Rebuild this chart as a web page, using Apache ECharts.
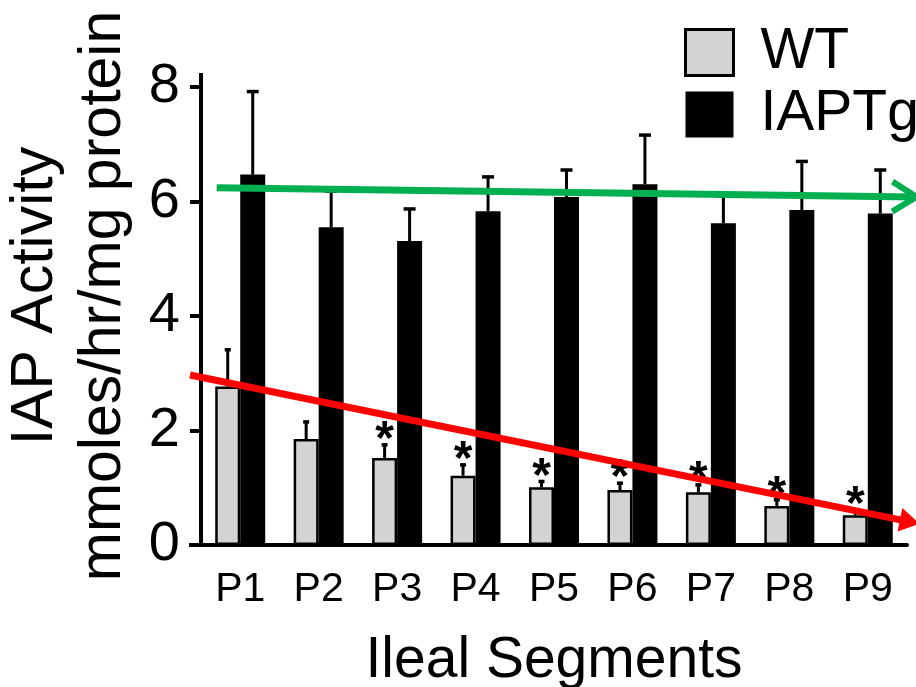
<!DOCTYPE html>
<html><head><meta charset="utf-8">
<script src="https://cdn.jsdelivr.net/npm/echarts@6/dist/echarts.min.js"></script>
<style>html,body{margin:0;padding:0;background:#fff}#c{width:916px;height:687px}</style>
</head><body><div id="c"></div>
<script>
const categories = ['P1', 'P2', 'P3', 'P4', 'P5', 'P6', 'P7', 'P8', 'P9'];
const wtMean = [2.77, 1.85, 1.52, 1.21, 1.01, 0.96, 0.92, 0.68, 0.52];
const wtSem  = [0.64, 0.30, 0.23, 0.19, 0.10, 0.12, 0.13, 0.11, 0.09];
const tgMean = [6.47, 5.55, 5.31, 5.83, 6.08, 6.30, 5.62, 5.85, 5.79];
const tgSem  = [1.45, 0.63, 0.56, 0.60, 0.47, 0.86, 0.48, 0.85, 0.76];
const wtSig  = ['', '', '*', '*', '*', '*', '*', '*', '*'];
const yTicks = [0, 2, 4, 6, 8];
// trend arrows: [xStart, yStart, xEnd, yEnd] in category-index units / y units
const greenTrend = [-0.30, 6.24, 8.62, 6.08];
const redTrend   = [-0.64, 2.97, 8.66, 0.37];

const FONT = '"Liberation Sans", Arial, Helvetica, sans-serif';
const chart = echarts.init(document.getElementById('c'), null, {renderer: 'canvas'});

function errRender(meanArr, semArr, offset, capHalf, sig) {
  return function (params, api) {
    const i = params.dataIndex;
    const base = api.coord([i, meanArr[i]]);
    const top = api.coord([i, meanArr[i] + semArr[i]]);
    const x = base[0] + offset;
    const children = [
      {type: 'line', shape: {x1: x, y1: base[1], x2: x, y2: top[1]}, style: {stroke: '#000', lineWidth: 3}},
      {type: 'line', shape: {x1: x - capHalf, y1: top[1], x2: x + capHalf, y2: top[1]}, style: {stroke: '#000', lineWidth: 3.5}}
    ];
    if (sig && sig[i]) {
      children.push({type: 'text', x: x, y: top[1] - 4,
        style: {text: sig[i], fontSize: 48, fontWeight: 'bold', fontFamily: FONT,
          align: 'center', verticalAlign: 'middle', fill: '#000'}});
    }
    return {type: 'group', children: children};
  };
}

function arrowRender(color, open) {
  return function (params, api) {
    const p1 = api.coord([api.value(0), api.value(1)]);
    const p2 = api.coord([api.value(2), api.value(3)]);
    const dx = p2[0] - p1[0], dy = p2[1] - p1[1];
    const len = Math.sqrt(dx * dx + dy * dy);
    const ux = dx / len, uy = dy / len;
    const nx = -uy, ny = ux;
    const children = [];
    if (open) {
      const L = 24, W = 15;
      children.push({type: 'line', shape: {x1: p1[0], y1: p1[1], x2: p2[0] - ux * 3, y2: p2[1] - uy * 3},
        style: {stroke: color, lineWidth: 7}});
      children.push({type: 'polyline', shape: {points: [
        [p2[0] - ux * L + nx * W, p2[1] - uy * L + ny * W], [p2[0], p2[1]],
        [p2[0] - ux * L - nx * W, p2[1] - uy * L - ny * W]]},
        style: {stroke: color, lineWidth: 6, fill: null, lineJoin: 'miter'}});
    } else {
      const L = 20, W = 12;
      children.push({type: 'line', shape: {x1: p1[0], y1: p1[1], x2: p2[0] - ux * L * 0.6, y2: p2[1] - uy * L * 0.6},
        style: {stroke: color, lineWidth: 7}});
      children.push({type: 'polygon', shape: {points: [
        [p2[0], p2[1]],
        [p2[0] - ux * L + nx * W, p2[1] - uy * L + ny * W],
        [p2[0] - ux * L - nx * W, p2[1] - uy * L - ny * W]]},
        style: {fill: color}});
    }
    return {type: 'group', children: children};
  };
}

const option = {
  animation: false,
  backgroundColor: '#fff',
  textStyle: {fontFamily: FONT},
  grid: {left: 201, right: 9, top: 87, bottom: 142, containLabel: false, outerBoundsMode: 'none'},
  legend: {
    orient: 'vertical', left: 684, top: 24, padding: 0,
    itemWidth: 48, itemHeight: 46, itemGap: 5, icon: 'rect',
    textStyle: {fontSize: 57, fontFamily: FONT, color: '#000', lineHeight: 46, padding: [0, 0, 0, 22]},
    data: [
      {name: 'WT', itemStyle: {color: '#d3d3d3', borderColor: '#000', borderWidth: 3}},
      {name: 'IAPTg', itemStyle: {color: '#000', borderColor: '#000', borderWidth: 0}}
    ]
  },
  xAxis: [{
    type: 'category', data: categories, gridIndex: 0,
    axisLine: {onZero: false, lineStyle: {color: '#000', width: 4}},
    axisTick: {alignWithLabel: true, length: 10, lineStyle: {color: '#000', width: 3}},
    axisLabel: {fontSize: 41, color: '#000', margin: 24, fontFamily: FONT},
    name: 'Ileal Segments', nameLocation: 'middle', nameGap: 88,
    nameTextStyle: {fontSize: 57, color: '#000', fontFamily: FONT}
  }, {
    type: 'value', gridIndex: 0, min: -0.5, max: 8.5, show: false
  }],
  yAxis: {
    type: 'value', min: 0, max: 8, interval: 2,
    axisLine: {show: true, onZero: false, lineStyle: {color: '#000', width: 4}},
    axisTick: {show: true, length: 11, lineStyle: {color: '#000', width: 4}},
    splitLine: {show: false},
    axisLabel: {fontSize: 56, color: '#000', margin: 21, fontFamily: FONT,
      formatter: function (v) { return yTicks.indexOf(v) >= 0 ? String(v) : ''; }},
    name: 'IAP Activity\nmmoles/hr/mg protein', nameLocation: 'middle', nameRotate: 90, nameGap: 63,
    nameTextStyle: {fontSize: 59, lineHeight: 68, color: '#000', fontFamily: FONT, padding: [0, 0, 0, 40]}
  },
  series: [
    {name: 'WT', type: 'bar', data: wtMean, barWidth: 25, barGap: '0%', z: 2,
      itemStyle: {color: '#d3d3d3', borderColor: '#000', borderWidth: 2.5}},
    {name: 'IAPTg', type: 'bar', data: tgMean, barWidth: 25, barGap: '0%', z: 2,
      itemStyle: {color: '#000', borderColor: '#000', borderWidth: 0}},
    {type: 'custom', z: 3, xAxisIndex: 0, renderItem: errRender(wtMean, wtSem, -12.5, 3, wtSig),
      data: categories.map(function (c, i) { return [i, wtMean[i] + wtSem[i]]; })},
    {type: 'custom', z: 3, xAxisIndex: 0, renderItem: errRender(tgMean, tgSem, 12.5, 6, null),
      data: categories.map(function (c, i) { return [i, tgMean[i] + tgSem[i]]; })},
    {type: 'custom', z: 6, xAxisIndex: 1, yAxisIndex: 0, clip: false,
      dimensions: ['x1', 'y1', 'x2', 'y2'], encode: {x: [0, 2], y: [1, 3]},
      renderItem: arrowRender('#00b050', true), data: [greenTrend]},
    {type: 'custom', z: 7, xAxisIndex: 1, yAxisIndex: 0, clip: false,
      dimensions: ['x1', 'y1', 'x2', 'y2'], encode: {x: [0, 2], y: [1, 3]},
      renderItem: arrowRender('#ff0000', false), data: [redTrend]}
  ],
  graphic: [
    {type: 'line', shape: {x1: 201, y1: 73, x2: 201, y2: 88}, style: {stroke: '#000', lineWidth: 4}},
    {type: 'line', shape: {x1: 189, y1: 545, x2: 202, y2: 545}, style: {stroke: '#000', lineWidth: 4}}
  ]
};
chart.setOption(option);
</script>
</body></html>
